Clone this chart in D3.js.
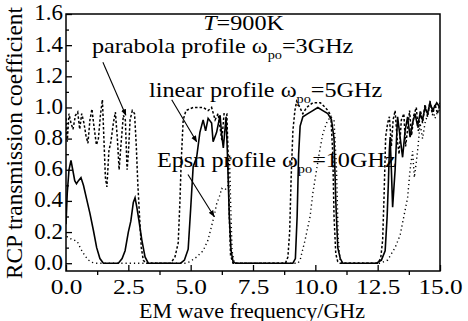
<!DOCTYPE html>
<html>
<head>
<meta charset="utf-8">
<script src="https://cdn.jsdelivr.net/npm/d3@7"></script>
<style>
  html, body { margin: 0; padding: 0; background: #fff; }
  svg text { font-family: "Liberation Serif", "Times New Roman", serif; fill: #000; }
</style>
</head>
<body>
<div id="chart"></div>
<script>
// RCP transmission vs frequency, T = 900K, three density profiles

const xTicks = [0, 2.5, 5, 7.5, 10, 12.5, 15];
const yTicks = [0, 0.2, 0.4, 0.6, 0.8, 1.0, 1.2, 1.4, 1.6];

// [frequency GHz, coefficient]
const linearProfile = [
	[0.0, 0.25], [0.05, 0.45], [0.12, 0.6], [0.2, 0.66], [0.27, 0.6], [0.35, 0.53], [0.42, 0.51],
	[0.5, 0.53], [0.6, 0.55], [0.7, 0.5], [0.83, 0.41], [0.96, 0.32], [1.1, 0.21], [1.23, 0.1],
	[1.36, 0.03], [1.5, 0.0], [2.1, 0.0], [2.25, 0.03], [2.37, 0.08], [2.5, 0.2], [2.6, 0.27],
	[2.7, 0.39], [2.77, 0.42], [2.84, 0.36], [2.92, 0.28], [3.04, 0.15], [3.17, 0.04], [3.3, 0.0],
	[4.6, 0.0], [4.75, 0.02], [4.9, 0.09], [5.0, 0.35], [5.1, 0.62], [5.24, 0.68], [5.37, 0.84],
	[5.5, 0.92], [5.6, 0.85], [5.7, 0.93], [5.84, 0.9], [5.9, 0.78], [6.04, 0.84], [6.18, 0.95],
	[6.24, 0.83], [6.31, 0.74], [6.42, 0.94], [6.47, 0.72], [6.55, 0.3], [6.62, 0.08], [6.7, 0.01],
	[6.8, 0.0], [9.1, 0.0], [9.2, 0.03], [9.27, 0.3], [9.33, 0.7], [9.39, 0.88], [9.5, 0.94],
	[9.7, 0.96], [9.9, 0.98], [10.1, 1.0], [10.3, 0.98], [10.5, 0.96], [10.65, 0.92], [10.75, 0.8],
	[10.82, 0.4], [10.9, 0.1], [11.0, 0.03], [11.1, 0.0], [12.45, 0.0], [12.65, 0.02], [12.8, 0.08],
	[12.88, 0.3], [12.93, 0.52], [12.97, 0.73], [13.0, 0.81], [13.05, 0.6], [13.1, 0.36], [13.2, 0.6],
	[13.26, 0.81], [13.3, 0.94], [13.4, 0.81], [13.5, 0.68], [13.6, 0.85], [13.7, 0.94], [13.8, 0.81],
	[13.9, 0.9], [14.0, 0.96], [14.1, 0.88], [14.2, 0.96], [14.3, 0.92], [14.4, 1.0], [14.5, 0.96],
	[14.6, 1.03], [14.7, 0.98], [14.87, 1.03], [15.0, 1.0]
];

const parabolaProfile = [
	[0.0, 0.93], [0.05, 0.78], [0.12, 0.96], [0.2, 0.9], [0.28, 0.86], [0.38, 0.95], [0.47, 0.97],
	[0.55, 0.86], [0.63, 0.96], [0.72, 0.9], [0.8, 0.82], [0.88, 0.77], [0.96, 0.92], [1.04, 0.99],
	[1.12, 0.88], [1.22, 0.76], [1.3, 0.8], [1.38, 0.95], [1.46, 1.05], [1.52, 0.8], [1.58, 0.55],
	[1.64, 0.49], [1.72, 0.72], [1.8, 0.78], [1.9, 0.9], [1.98, 0.97], [2.06, 0.8], [2.13, 0.6],
	[2.2, 0.75], [2.3, 0.95], [2.38, 0.92], [2.45, 0.6], [2.5, 0.7], [2.57, 0.92], [2.66, 0.98],
	[2.75, 0.96], [2.82, 0.75], [2.88, 0.51], [2.95, 0.3], [3.02, 0.1], [3.1, 0.02], [3.2, 0.0],
	[4.2, 0.0], [4.37, 0.04], [4.5, 0.13], [4.57, 0.4], [4.62, 0.65], [4.7, 0.92], [4.81, 0.98],
	[5.1, 1.0], [5.5, 1.0], [5.7, 0.98], [5.84, 1.0], [5.98, 0.92], [6.1, 0.96], [6.25, 0.79],
	[6.34, 0.96], [6.45, 0.96], [6.5, 0.7], [6.55, 0.3], [6.6, 0.05], [6.7, 0.0], [8.8, 0.0],
	[8.9, 0.04], [8.97, 0.2], [9.03, 0.55], [9.1, 0.85], [9.18, 0.98], [9.25, 1.04], [9.38, 1.0],
	[9.5, 0.96], [9.65, 1.0], [9.9, 1.03], [10.2, 1.03], [10.4, 1.0], [10.5, 0.98], [10.62, 0.95],
	[10.7, 0.7], [10.75, 0.3], [10.82, 0.06], [10.9, 0.01], [11.0, 0.0], [12.5, 0.0], [12.62, 0.03],
	[12.7, 0.15], [12.76, 0.45], [12.82, 0.81], [12.9, 0.9], [12.97, 0.94], [13.05, 0.75], [13.12, 0.92],
	[13.2, 0.98], [13.28, 0.8], [13.36, 0.7], [13.45, 0.92], [13.55, 0.96], [13.62, 0.75], [13.7, 0.86],
	[13.78, 0.98], [13.86, 0.82], [13.95, 0.95], [14.05, 1.0], [14.13, 0.85], [14.22, 0.98], [14.3, 0.9],
	[14.4, 1.02], [14.5, 0.94], [14.6, 1.04], [14.7, 0.95], [14.8, 1.02], [14.9, 0.96], [15.0, 1.03]
];

const epsnProfile = [
	[0.0, 0.2], [0.05, 0.17], [0.15, 0.16], [0.3, 0.15], [0.45, 0.14], [0.6, 0.09], [0.75, 0.05],
	[0.9, 0.02], [1.05, 0.005], [1.2, 0.0], [4.8, 0.0], [4.97, 0.01], [5.24, 0.04], [5.5, 0.08],
	[5.7, 0.15], [5.84, 0.24], [5.94, 0.3], [6.04, 0.38], [6.18, 0.44], [6.24, 0.48], [6.38, 0.47],
	[6.5, 0.5], [6.56, 0.7], [6.6, 0.4], [6.66, 0.08], [6.75, 0.0], [9.3, 0.0], [9.39, 0.02],
	[9.59, 0.15], [9.79, 0.3], [9.9, 0.45], [10.05, 0.6], [10.15, 0.7], [10.3, 0.83], [10.45, 0.9],
	[10.6, 0.94], [10.75, 0.92], [10.85, 0.6], [10.92, 0.15], [11.0, 0.01], [11.1, 0.0], [12.6, 0.0],
	[12.9, 0.02], [13.2, 0.1], [13.4, 0.18], [13.55, 0.3], [13.7, 0.42], [13.8, 0.6], [13.9, 0.72],
	[13.97, 0.55], [14.05, 0.65], [14.12, 0.75], [14.2, 0.9], [14.3, 0.8], [14.4, 0.9], [14.55, 0.98],
	[14.7, 1.0], [14.8, 0.93], [14.9, 0.97], [15.0, 0.99]
];

// label text, anchor point and arrow (from -> to), all in data units
const labels = [
	{ text: 'parabola profile ω', sub: 'po', tail: '=3GHz', at: [1.04, 1.35], from: [1.48, 1.29], to: [2.4, 0.95] },
	{ text: 'linear profile ω', sub: 'po', tail: '=5GHz', at: [3.33, 1.07], from: [4.24, 1.05], to: [5.24, 0.78] },
	{ text: 'Epsn profile ω', sub: 'po', tail: '=10GHz', at: [3.65, 0.62], from: [4.89, 0.57], to: [5.94, 0.30] }
];

const width = 468, height = 321;
const stretch = 1.1; // the printed labels run a little wide

const svg = d3.select('#chart')
	.append('svg')
	.attr('width', width)
	.attr('height', height);

const x = d3.scaleLinear().domain([0, 15]).range([66, 440]);
const y = d3.scaleLinear().domain([-0.05, 1.6]).range([271, 14]);

const defs = svg.append('defs');

defs.append('clipPath')
	.attr('id', 'plot')
	.append('rect')
	.attr('x', 66).attr('y', 14)
	.attr('width', 374).attr('height', 257);

defs.append('marker')
	.attr('id', 'head')
	.attr('viewBox', '0 0 10 10')
	.attr('refX', 9).attr('refY', 5)
	.attr('markerWidth', 6).attr('markerHeight', 6)
	.attr('orient', 'auto')
	.append('path')
	.attr('d', 'M0,1 L10,5 L0,9 Z')
	.attr('fill', '#000');

// axes
const xAxis = svg.append('g')
	.attr('transform', 'translate(0,271)')
	.call(d3.axisBottom(x).tickValues(xTicks).tickSize(-6).tickPadding(7).tickFormat(d3.format('.1f')));

svg.append('g')
	.attr('transform', 'translate(0,271)')
	.call(d3.axisBottom(x).tickValues(d3.range(1.25, 15, 2.5)).tickSize(4).tickFormat(''));

const yAxis = svg.append('g')
	.attr('transform', 'translate(66,0)')
	.call(d3.axisLeft(y).tickValues(yTicks).tickSize(-6).tickPadding(3).tickFormat(d3.format('.1f')));

svg.append('g')
	.attr('transform', 'translate(66,0)')
	.call(d3.axisLeft(y).tickValues(d3.range(0.1, 1.6, 0.2)).tickSize(-3).tickFormat(''));

svg.selectAll('.tick line').attr('stroke', '#000').attr('stroke-width', 1.3);
svg.selectAll('.domain').remove();

xAxis.selectAll('text')
	.attr('font-size', 22)
	.attr('font-family', '"Liberation Serif", serif')
	.attr('transform', 'scale(1.15,1)');
yAxis.selectAll('text')
	.attr('font-size', 23)
	.attr('font-family', '"Liberation Serif", serif')
	.attr('dy', '0.26em');

// frame
svg.append('rect')
	.attr('x', 66).attr('y', 14)
	.attr('width', 374).attr('height', 257)
	.attr('fill', 'none')
	.attr('stroke', '#000')
	.attr('stroke-width', 1.5);

// curves
const line = d3.line()
	.x(d => x(d[0]))
	.y(d => y(d[1]));

const curves = svg.append('g').attr('clip-path', 'url(#plot)');

curves.append('path')
	.datum(epsnProfile)
	.attr('d', line)
	.attr('fill', 'none')
	.attr('stroke', '#000')
	.attr('stroke-width', 1.4)
	.attr('stroke-dasharray', '1.2 3');

curves.append('path')
	.datum(parabolaProfile)
	.attr('d', line)
	.attr('fill', 'none')
	.attr('stroke', '#000')
	.attr('stroke-width', 1.5)
	.attr('stroke-dasharray', '2.5 2');

curves.append('path')
	.datum(linearProfile)
	.attr('d', line)
	.attr('fill', 'none')
	.attr('stroke', '#000')
	.attr('stroke-width', 1.6);

// annotations
svg.append('text')
	.attr('transform', `translate(${x(5.5)},${y(1.5)}) scale(${stretch},1)`)
	.attr('font-size', 22)
	.call(t => {
		t.append('tspan').attr('font-style', 'italic').text('T');
		t.append('tspan').text('=900K');
	});

const note = svg.append('g')
	.selectAll('g')
	.data(labels)
	.join('g');

note.append('line')
	.attr('x1', d => x(d.from[0])).attr('y1', d => y(d.from[1]))
	.attr('x2', d => x(d.to[0])).attr('y2', d => y(d.to[1]))
	.attr('stroke', '#000')
	.attr('stroke-width', 1.1)
	.attr('marker-end', 'url(#head)');

note.append('text')
	.attr('transform', d => `translate(${x(d.at[0])},${y(d.at[1])}) scale(${stretch},1)`)
	.attr('font-size', 22)
	.each(function (d) {
		const t = d3.select(this);
		t.append('tspan').text(d.text);
		t.append('tspan').attr('font-size', 13).attr('dy', 6).text(d.sub);
		t.append('tspan').attr('dy', -6).text(d.tail);
	});

// axis titles
svg.append('text')
	.attr('x', 252).attr('y', 317.5)
	.attr('text-anchor', 'middle')
	.attr('font-size', 21)
	.attr('textLength', 226)
	.attr('lengthAdjust', 'spacingAndGlyphs')
	.text('EM wave frequency/GHz');

svg.append('text')
	.attr('transform', 'translate(22,143) rotate(-90)')
	.attr('text-anchor', 'middle')
	.attr('font-size', 23)
	.attr('textLength', 272)
	.attr('lengthAdjust', 'spacingAndGlyphs')
	.text('RCP transmission coefficient');
</script>
</body>
</html>
